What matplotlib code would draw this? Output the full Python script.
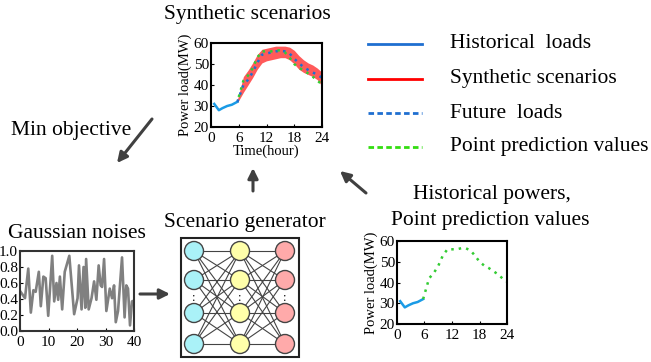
import numpy as np
import matplotlib
matplotlib.use('Agg')
import matplotlib.pyplot as plt
from matplotlib.patches import Circle, Rectangle

plt.rcParams['font.family'] = ['Liberation Serif', 'DejaVu Serif']

# ---- data ----
hist_t = [0.7, 1.7, 2.5, 3.5, 4.5, 5.7]
hist_load = [31, 28, 29, 30, 30.6, 32]

fut_t = [5.7, 7, 8, 9, 10, 11, 12, 13, 14, 15, 16, 17, 18, 19, 20, 21, 22, 23, 24]
future_load = [32, 40, 42.5, 46, 50.5, 54.4, 55, 55.5, 56, 56.3, 56, 55, 52.5, 50.5, 48.5, 47.2, 46, 44.8, 43.5]
point_pred = [32, 42, 44.5, 48, 53, 56, 56, 56, 56.5, 56.5, 55.5, 53, 50, 48.2, 47, 45.5, 44, 42, 40.4]
scen_low = [31.5, 36.5, 40, 43.5, 47.5, 50.5, 51.5, 52, 52.5, 53, 53, 52, 50, 47.5, 46, 45, 44, 42.5, 39.5]
scen_high = [33, 44, 47, 50.5, 54.5, 57, 57.5, 58, 58.5, 58.5, 58.5, 58, 56.5, 54, 52, 50.5, 49.5, 48, 46]

noise_t = [0, 0.8, 1.75, 2.9, 3.8, 4.7, 5.5, 6.6, 7.3, 8.2, 9, 9.9, 11.3, 12, 12.8, 13.4, 14,
           14.8, 15.7, 17.3, 19, 20.2, 20.7, 21.6, 22.3, 22.9, 23.2, 24.1, 25.1, 26, 26.8,
           27.6, 28.3, 28.8, 29.5, 30.3, 31.5, 32.3, 33, 33.6, 34.4, 35.8, 36.7, 37.3, 37.9,
           38.6, 39.3, 40]
noise_val = [0.5, 0.46, 0.41, 0.78, 0.23, 0.51, 0.49, 0.74, 0.31, 0.68, 0.66, 0.19, 0.94, 0.37,
             0.6, 0.39, 0.68, 0.27, 0.74, 0.94, 0.21, 0.41, 0.82, 0.27, 0.8, 0.29, 0.9, 0.27,
             0.41, 0.62, 0.39, 0.82, 0.57, 0.55, 0.9, 0.25, 0.53, 0.41, 0.57, 0.11, 0.25, 0.92,
             0.17, 0.57, 0.53, 0.07, 0.37, 0.38]

hour_ticks = [0, 6, 12, 18, 24]
load_ticks = [20, 30, 40, 50, 60]

legend_labels = ['Historical  loads', 'Synthetic scenarios', 'Future  loads', 'Point prediction values']

c_hist = '#1a9be6'
c_scen = '#ff5a5a'
c_fut = '#1f6fd0'
c_pred = '#33cc33'

W, H = 651, 362
fig = plt.figure(figsize=(W / 100, H / 100), dpi=100)

# overlay in pixel coordinates for texts, arrows and the network
ov = fig.add_axes([0, 0, 1, 1])
ov.set_xlim(0, W)
ov.set_ylim(H, 0)
ov.axis('off')


def px_axes(x0, y0, x1, y1):
    return fig.add_axes([x0 / W, 1 - y1 / H, (x1 - x0) / W, (y1 - y0) / H])


def style(ax, fs=11):
    for s in ax.spines.values():
        s.set_linewidth(1.5)
    ax.tick_params(labelsize=fs, length=2, direction='in')
    ax.tick_params(axis='x', pad=3.5)
    ax.tick_params(axis='y', pad=1.5)


# ---- synthetic scenarios plot ----
ax1 = px_axes(211, 43, 322, 127)
ax1.fill_between(fut_t, scen_low, scen_high, color=c_scen, lw=0)
ax1.plot(hist_t, hist_load, color=c_hist, lw=1.8)
ax1.plot(fut_t, future_load, color=c_fut, lw=1.8, ls=(0, (1, 2)))
ax1.plot(fut_t, point_pred, color=c_pred, lw=1.8, ls=(1, (1, 2)))
ax1.set_xlim(0, 24)
ax1.set_ylim(20, 60)
ax1.set_xticks(hour_ticks)
ax1.set_yticks(load_ticks)
style(ax1)
ax1.set_xlabel('Time(hour)', fontsize=10.5, labelpad=0)
ax1.set_ylabel('Power load(MW)', fontsize=10.5, labelpad=1)

# ---- historical + point prediction plot ----
ax2 = px_axes(397, 241, 507, 324)
ax2.plot(hist_t, hist_load, color=c_hist, lw=1.8)
ax2.plot(fut_t, point_pred, color=c_pred, lw=1.8, ls=(0, (1, 2)))
ax2.set_xlim(0, 24)
ax2.set_ylim(20, 60)
ax2.set_xticks(hour_ticks)
ax2.set_yticks(load_ticks)
style(ax2)
ax2.set_ylabel('Power load(MW)', fontsize=10.5, labelpad=1)

# ---- gaussian noise plot ----
ax3 = px_axes(20, 251, 134, 331)
ax3.plot(noise_t, noise_val, color='#808080', lw=1.9)
ax3.set_xlim(0, 40)
ax3.set_ylim(0, 1)
ax3.set_xticks([0, 10, 20, 30, 40])
ax3.set_yticks(np.arange(0, 1.01, 0.2))
ax3.set_yticklabels([f'{v:.1f}' for v in np.arange(0, 1.01, 0.2)])
style(ax3)
for s in ax3.spines.values():
    s.set_color('#333333')

# ---- scenario generator network ----
ov.add_patch(Rectangle((181, 238), 118, 119, fill=False, ec='#222222', lw=1.5))
col_x = [194, 240, 285]
row_y = [251, 280, 313, 344]
node_colors = ['#aaf2f8', '#ffffaa', '#ffaaaa']
for a, b in zip(col_x[:-1], col_x[1:]):
    for ya in row_y:
        for yb in row_y:
            ov.plot([a, b], [ya, yb], color='#444444', lw=0.8, zorder=2)
for cx, fc in zip(col_x, node_colors):
    for cy in row_y:
        ov.add_patch(Circle((cx, cy), 9.5, fc=fc, ec='#444444', lw=1, zorder=3))
    ov.text(cx, 298, ':', ha='center', va='center', fontsize=9, zorder=4)

# ---- titles and labels ----
ov.text(247, 15, 'Synthetic scenarios', ha='center', va='center', fontsize=15.5)
ov.text(77, 233, 'Gaussian noises', ha='center', va='center', fontsize=15.5)
ov.text(245, 223, 'Scenario generator', ha='center', va='center', fontsize=15.5)
ov.text(492, 194, 'Historical powers,', ha='center', va='center', fontsize=15.5)
ov.text(490, 221, 'Point prediction values', ha='center', va='center', fontsize=15.5)
ov.text(71, 131, 'Min objective', ha='center', va='center', fontsize=15.5)

# ---- legend ----
leg_y = [44, 79, 113, 147]
leg_style = [(c_fut, '-'), ('#ff0000', '-'), (c_fut, (0, (2, 1.2))), ('#33dd11', (0, (2, 1.2)))]
for y, lab, (c, ls) in zip(leg_y, legend_labels, leg_style):
    ov.plot([368, 422], [y, y], color=c, ls=ls, lw=2)
    ov.text(450, y, lab, ha='left', va='center', fontsize=15.5)

# ---- arrows ----
arr = dict(arrowstyle='-|>', color='#404040', lw=2.2, mutation_scale=15, shrinkA=0, shrinkB=0)
ov.annotate('', xy=(117, 163), xytext=(152, 119), arrowprops=arr)
ov.annotate('', xy=(253, 168), xytext=(253, 191), arrowprops=arr)
ov.annotate('', xy=(340, 171), xytext=(366, 193), arrowprops=arr)
ov.annotate('', xy=(170, 294), xytext=(140, 294), arrowprops=arr)

fig.savefig('out.png', dpi=100)
